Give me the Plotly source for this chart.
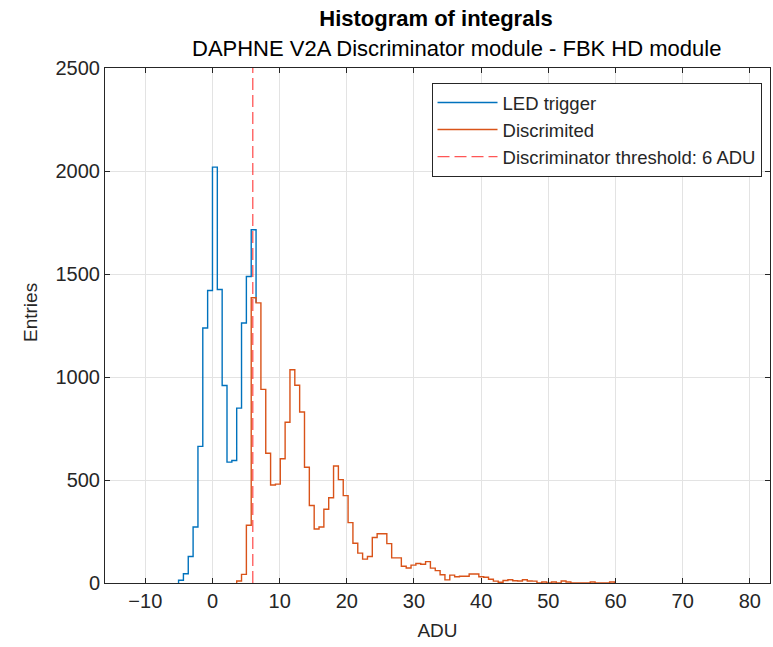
import plotly.graph_objects as go

# ---- data ----
bin_width = 0.721                     # ADU per bin
led_first_bin = -7                    # index of first LED-trigger bin (edge = index * bin_width)
led_counts_low = [13, 45, 129, 272, 663, 1238, 1420, 2019, 1425, 959, 587, 595, 849, 1262, 1488, 1715]
disc_first_bin = 5
disc_counts = [10, 42, 280, 1385, 1360, 940, 630, 476, 480, 603, 780, 1035, 960, 830, 562,
               376, 262, 272, 358, 414, 568, 502, 424, 293, 193, 145, 116, 129, 221, 239,
               239, 191, 122, 122, 81, 73, 87, 95, 91, 104, 72, 60, 40, 15, 38, 30,
               33, 33, 44, 44, 30, 28, 18, 9, 4, 12, 16, 11, 10, 16, 10, 9, 0, 5, 0,
               5, 0, 10, 5, 0, 0, 0, 0, 5, 0, 0, 0, 5]
threshold = 6
x_ticks = list(range(-10, 90, 10))
y_ticks = list(range(0, 3000, 500))
x_range = [-16, 83]
y_range = [0, 2500]

# Above its low bins the LED-trigger histogram coincides with the discriminated one,
# so its outline is drawn only up to where it joins the orange outline.
n_low = len(led_counts_low)
join_value = disc_counts[(led_first_bin + n_low) - disc_first_bin]


def stairs(first_bin, counts, end_value=0):
    edges = [(first_bin + i) * bin_width for i in range(len(counts) + 1)]
    xs = [edges[0]] + edges
    ys = [0] + list(counts) + [end_value]
    return xs, ys


FONT = "Liberation Sans, Arial, Helvetica, sans-serif"
BLUE = "#0072BD"
ORANGE = "#D95319"

fig = go.Figure()
lx, ly = stairs(led_first_bin, led_counts_low, join_value)
fig.add_trace(go.Scatter(x=lx, y=ly, mode="lines", line=dict(color=BLUE, width=1.4, shape="hv"),
                         name="LED trigger"))
dx, dy = stairs(disc_first_bin, disc_counts)
fig.add_trace(go.Scatter(x=dx, y=dy, mode="lines", line=dict(color=ORANGE, width=1.4, shape="hv"),
                         name="Discrimited"))
fig.add_trace(go.Scatter(x=[threshold, threshold], y=y_range, mode="lines",
                         line=dict(color="rgba(255,30,30,0.75)", width=1.3, dash="12px,5px"),
                         name=f"Discriminator threshold: {threshold} ADU"))

axis_common = dict(showline=True, linecolor="#262626", linewidth=1, mirror="ticks",
                   ticks="inside", ticklen=5, tickcolor="#262626", tickwidth=1,
                   showgrid=True, gridcolor="#e3e3e3", gridwidth=1, zeroline=False,
                   tickfont=dict(family=FONT, size=20, color="#262626"))

fig.update_layout(
    width=773, height=647,
    margin=dict(l=105, r=3, t=68, b=64),
    paper_bgcolor="white", plot_bgcolor="white",
    font=dict(family=FONT, color="#262626"),
    title=dict(text="<b>Histogram of integrals</b>", x=436 / 773, xanchor="center",
               y=1 - 18 / 647, yanchor="middle", yref="container",
               font=dict(family=FONT, size=22, color="black")),
    xaxis=dict(range=x_range, tickvals=x_ticks,
               title=dict(text="ADU", font=dict(family=FONT, size=19, color="#262626"), standoff=12),
               **axis_common),
    yaxis=dict(range=y_range, tickvals=y_ticks, **axis_common),
    showlegend=True,
    legend=dict(x=0.491, y=0.971, xanchor="left", yanchor="top",
                bgcolor="white", bordercolor="#262626", borderwidth=1,
                font=dict(family=FONT, size=18.5, color="#262626"),
                itemwidth=60, tracegroupgap=0),
    annotations=[
        dict(text="DAPHNE V2A Discriminator module - FBK HD module",
             xref="paper", yref="paper", x=(456 - 105) / 665, y=1 + 20 / 515,
             xanchor="center", yanchor="middle", showarrow=False,
             font=dict(family=FONT, size=22, color="black")),
        dict(text="Entries", textangle=-90,
             xref="paper", yref="paper", x=0, xshift=-75, y=(583 - 313) / 515,
             xanchor="center", yanchor="middle", showarrow=False,
             font=dict(family=FONT, size=19, color="#262626")),
    ],
)

fig.write_html("out.html")
